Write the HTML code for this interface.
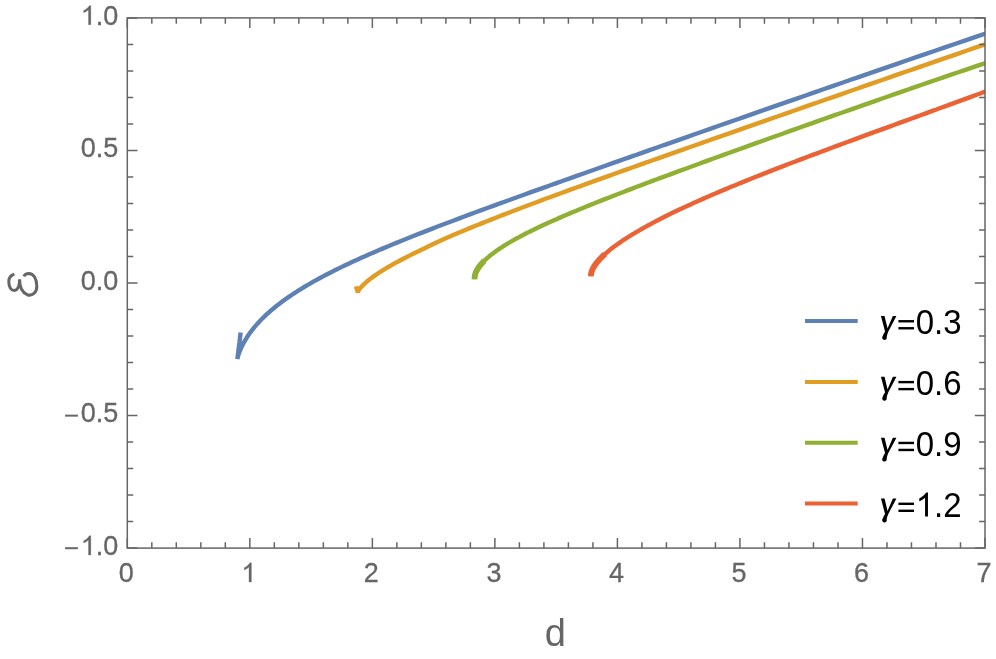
<!DOCTYPE html>
<html><head><meta charset="utf-8"><title>plot</title>
<style>html,body{margin:0;padding:0;background:#fff;}body{width:996px;height:659px;overflow:hidden;font-family:"Liberation Sans",sans-serif;}svg{display:block;}text{font-family:"Liberation Sans",sans-serif;}</style>
</head><body>
<svg style="will-change:transform" width="996" height="659" viewBox="0 0 996 659">
<rect x="0" y="0" width="996" height="659" fill="#ffffff"/>
<defs><clipPath id="clip"><rect x="127.3" y="17.9" width="857.7" height="530.2"/></clipPath></defs>
<g clip-path="url(#clip)" fill="none" stroke-width="4.4" stroke-linejoin="bevel" stroke-linecap="butt">
<path d="M240.6,332.4 L239.4,343 L237.35,359 L238.12,355.72 L238.81,353.69 L239.57,351.66 L240.4,349.63 L241.3,347.61 L242.27,345.58 L243.3,343.57 L244.41,341.55 L245.58,339.54 L246.82,337.54 L248.14,335.54 L249.52,333.54 L250.97,331.55 L252.49,329.57 L254.07,327.6 L255.73,325.62 L257.46,323.66 L259.25,321.7 L261.12,319.75 L263.05,317.81 L265.05,315.87 L267.12,313.94 L269.26,312.02 L271.47,310.1 L273.75,308.19 L276.1,306.28 L278.51,304.38 L281,302.49 L283.55,300.6 L286.18,298.72 L288.87,296.84 L291.63,294.97 L294.46,293.1 L297.36,291.23 L300.33,289.37 L303.36,287.51 L306.47,285.65 L309.64,283.8 L312.89,281.94 L316.2,280.09 L319.58,278.24 L323.04,276.39 L326.56,274.55 L330.15,272.7 L333.8,270.84 L337.53,268.99 L341.33,267.14 L345.19,265.28 L349.13,263.42 L353.13,261.56 L357.2,259.69 L361.34,257.82 L365.55,255.94 L369.83,254.06 L374.18,252.17 L378.6,250.28 L383.09,248.38 L387.64,246.47 L392.26,244.55 L396.96,242.62 L401.72,240.68 L406.55,238.74 L411.45,236.78 L416.42,234.81 L421.46,232.83 L426.57,230.84 L431.74,228.84 L436.99,226.82 L442.3,224.79 L447.69,222.75 L453.14,220.69 L458.66,218.62 L464.25,216.53 L469.91,214.43 L475.64,212.31 L481.44,210.17 L487.3,208.02 L493.24,205.85 L499.24,203.66 L505.32,201.45 L511.46,199.23 L517.67,196.99 L523.95,194.72 L530.3,192.44 L536.72,190.14 L543.21,187.82 L549.76,185.48 L556.39,183.11 L563.08,180.73 L569.85,178.33 L576.68,175.9 L583.58,173.45 L590.55,170.98 L597.59,168.49 L604.7,165.98 L611.88,163.44 L619.13,160.88 L626.44,158.3 L633.83,155.7 L641.28,153.07 L648.8,150.42 L656.39,147.75 L664.05,145.05 L671.78,142.34 L679.58,139.59 L687.45,136.83 L695.39,134.04 L703.39,131.23 L711.47,128.4 L719.61,125.54 L727.82,122.66 L736.11,119.76 L744.46,116.84 L752.88,113.89 L761.37,110.92 L769.92,107.93 L778.55,104.92 L787.25,101.88 L796.01,98.82 L804.85,95.74 L813.75,92.64 L822.72,89.52 L831.76,86.38 L840.87,83.21 L850.05,80.03 L859.3,76.82 L868.61,73.6 L878,70.35 L887.46,67.09 L896.98,63.81 L906.57,60.5 L916.23,57.18 L925.97,53.84 L935.77,50.49 L945.63,47.11 L955.57,43.72 L965.58,40.31 L975.65,36.89 L985.8,33.45" stroke="#5E81B5"/>
<path d="M355.9,286.3 L357.9,292.6 L358.19,291.41 L358.42,290.84 L358.71,290.25 L359.07,289.64 L359.49,289.02 L359.98,288.39 L360.53,287.74 L361.15,287.08 L361.83,286.41 L362.58,285.63 L363.39,284.8 L364.27,283.94 L365.21,283.06 L366.22,282.17 L367.29,281.25 L368.43,280.31 L369.63,279.36 L370.9,278.38 L372.23,277.39 L373.63,276.38 L375.09,275.35 L376.62,274.3 L378.21,273.24 L379.87,272.16 L381.59,271.06 L383.38,269.95 L385.23,268.82 L387.15,267.67 L389.13,266.51 L391.18,265.33 L393.29,264.14 L395.47,262.94 L397.71,261.71 L400.02,260.48 L402.39,259.23 L404.83,257.96 L407.33,256.68 L409.9,255.39 L412.53,254.08 L415.23,252.76 L417.99,251.42 L420.82,250.07 L423.71,248.71 L426.67,247.28 L429.69,245.8 L432.78,244.31 L435.93,242.8 L439.15,241.27 L442.43,239.78 L445.78,238.29 L449.19,236.79 L452.67,235.27 L456.21,233.74 L459.81,232.23 L463.49,230.7 L467.22,229.16 L471.03,227.6 L474.89,226.03 L478.83,224.45 L482.82,222.85 L486.89,221.23 L491.01,219.6 L495.21,217.96 L499.46,216.29 L503.78,214.62 L508.17,212.93 L512.62,211.22 L517.14,209.5 L521.72,207.76 L526.37,206 L531.08,204.23 L535.86,202.44 L540.7,200.63 L545.61,198.81 L550.58,196.97 L555.62,195.12 L560.72,193.24 L565.89,191.35 L571.12,189.44 L576.42,187.52 L581.78,185.57 L587.21,183.61 L592.7,181.63 L598.26,179.63 L603.88,177.61 L609.57,175.57 L615.32,173.51 L621.14,171.44 L627.02,169.34 L632.97,167.23 L638.98,165.09 L645.06,162.94 L651.2,160.76 L657.4,158.57 L663.68,156.35 L670.01,154.12 L676.42,151.86 L682.88,149.58 L689.42,147.28 L696.01,144.96 L702.67,142.62 L709.4,140.26 L716.19,137.88 L723.05,135.48 L729.97,133.05 L736.96,130.6 L744.01,128.13 L751.13,125.64 L758.31,123.13 L765.56,120.6 L772.87,118.04 L780.25,115.46 L787.69,112.87 L795.2,110.24 L802.77,107.6 L810.41,104.94 L818.11,102.25 L825.88,99.54 L833.71,96.81 L841.6,94.06 L849.57,91.28 L857.59,88.49 L865.69,85.67 L873.84,82.83 L882.07,79.98 L890.35,77.1 L898.7,74.19 L907.12,71.27 L915.6,68.33 L924.15,65.37 L932.76,62.38 L941.44,59.38 L950.18,56.36 L958.99,53.32 L967.86,50.26 L976.8,47.18 L985.8,44.08" stroke="#E19C24"/>
<path d="M474.6,279.26 L474.6,278.36 L474.63,277.53 L474.71,276.68 L474.84,275.83 L475.02,274.97 L475.26,274.09 L475.55,273.21 L475.9,272.32 L476.29,271.41 L476.74,270.5 L477.25,269.58 L477.8,268.65 L478.41,267.71 L479.07,266.76 L479.79,265.81 L480.55,264.84 L481.37,263.87 L482.25,262.89 L483.17,261.9 L484.15,260.9 L485.18,259.9 L486.27,258.89 L487.41,257.87 L488.6,256.84 L489.84,255.81 L491.14,254.77 L492.49,253.72 L493.89,252.66 L495.34,251.6 L496.85,250.53 L498.41,249.45 L500.03,248.37 L501.69,247.28 L503.41,246.18 L505.19,245.07 L507.01,243.96 L508.89,242.83 L510.82,241.71 L512.81,240.57 L514.84,239.42 L516.93,238.27 L519.08,237.11 L521.27,235.94 L523.52,234.76 L525.82,233.58 L528.18,232.39 L530.59,231.18 L533.05,229.97 L535.56,228.75 L538.13,227.53 L540.75,226.29 L543.42,225.04 L546.14,223.79 L548.92,222.52 L551.75,221.25 L554.64,219.96 L557.57,218.67 L560.56,217.36 L563.61,216.05 L566.7,214.72 L569.85,213.39 L573.05,212.04 L576.31,210.68 L579.61,209.31 L582.97,207.93 L586.39,206.54 L589.85,205.13 L593.37,203.72 L596.94,202.29 L600.57,200.85 L604.25,199.4 L607.98,197.93 L611.76,196.45 L615.6,194.96 L619.49,193.46 L623.43,191.94 L627.42,190.41 L631.47,188.87 L635.57,187.31 L639.73,185.73 L643.93,184.15 L648.19,182.55 L652.51,180.93 L656.87,179.3 L661.29,177.66 L665.76,176 L670.29,174.32 L674.86,172.63 L679.49,170.92 L684.18,169.2 L688.91,167.47 L693.7,165.72 L698.54,163.95 L703.44,162.16 L708.39,160.36 L713.39,158.55 L718.44,156.72 L723.55,154.87 L728.71,153 L733.92,151.12 L739.18,149.22 L744.5,147.31 L749.87,145.38 L755.3,143.43 L760.77,141.47 L766.3,139.49 L771.88,137.49 L777.52,135.48 L783.21,133.45 L788.95,131.4 L794.74,129.34 L800.59,127.26 L806.49,125.17 L812.45,123.06 L818.45,120.93 L824.51,118.78 L830.62,116.62 L836.79,114.45 L843,112.26 L849.28,110.05 L855.6,107.83 L861.98,105.59 L868.4,103.34 L874.89,101.07 L881.42,98.78 L888.01,96.49 L894.65,94.18 L901.35,91.85 L908.09,89.51 L914.89,87.16 L921.74,84.79 L928.65,82.41 L935.61,80.02 L942.62,77.62 L949.68,75.2 L956.8,72.78 L963.97,70.34 L971.2,67.89 L978.47,65.43 L985.8,62.96" stroke="#8FB032"/>
<path d="M591,276.24 L591,275.44 L591.02,274.79 L591.08,274.12 L591.18,273.43 L591.33,272.74 L591.51,272.02 L591.74,271.3 L592,270.56 L592.31,269.81 L592.66,269.04 L593.04,268.27 L593.47,267.47 L593.94,266.67 L594.45,265.86 L595.01,265.03 L595.6,264.19 L596.23,263.34 L596.91,262.48 L597.62,261.61 L598.38,260.73 L599.17,259.83 L600.01,258.93 L600.89,258.01 L601.81,257.09 L602.77,256.15 L603.77,255.21 L604.81,254.25 L605.9,253.29 L607.02,252.32 L608.18,251.33 L609.39,250.34 L610.64,249.34 L611.92,248.33 L613.25,247.31 L614.62,246.28 L616.03,245.25 L617.48,244.2 L618.97,243.15 L620.51,242.09 L622.08,241.02 L623.69,239.94 L625.35,238.86 L627.05,237.77 L628.78,236.66 L630.56,235.56 L632.38,234.44 L634.24,233.32 L636.14,232.18 L638.08,231.05 L640.06,229.9 L642.08,228.75 L644.15,227.58 L646.25,226.42 L648.4,225.24 L650.58,224.06 L652.81,222.87 L655.08,221.67 L657.39,220.46 L659.74,219.25 L662.13,218.03 L664.56,216.81 L667.03,215.57 L669.55,214.33 L672.1,213.09 L674.7,211.83 L677.33,210.57 L680.01,209.3 L682.73,208.02 L685.49,206.74 L688.28,205.45 L691.13,204.15 L694.01,202.85 L696.93,201.53 L699.89,200.21 L702.9,198.88 L705.94,197.55 L709.03,196.2 L712.15,194.85 L715.32,193.5 L718.53,192.13 L721.78,190.75 L725.07,189.37 L728.4,187.98 L731.77,186.58 L735.18,185.18 L738.63,183.76 L742.13,182.34 L745.66,180.91 L749.24,179.47 L752.86,178.02 L756.51,176.56 L760.21,175.1 L763.95,173.62 L767.73,172.14 L771.55,170.64 L775.41,169.14 L779.32,167.63 L783.26,166.1 L787.25,164.57 L791.27,163.03 L795.34,161.48 L799.44,159.92 L803.59,158.35 L807.78,156.76 L812.01,155.17 L816.28,153.57 L820.59,151.95 L824.95,150.33 L829.34,148.69 L833.77,147.04 L838.25,145.38 L842.76,143.71 L847.32,142.03 L851.92,140.33 L856.56,138.62 L861.24,136.9 L865.96,135.17 L870.72,133.43 L875.52,131.67 L880.36,129.9 L885.25,128.11 L890.17,126.31 L895.14,124.5 L900.14,122.68 L905.19,120.84 L910.28,118.98 L915.41,117.11 L920.58,115.23 L925.79,113.33 L931.04,111.42 L936.33,109.49 L941.66,107.54 L947.04,105.58 L952.45,103.6 L957.91,101.61 L963.4,99.6 L968.94,97.57 L974.52,95.53 L980.14,93.47 L985.8,91.39" stroke="#EB6235"/>
<path d="M474.6,279.26 L474.6,278.36 L474.63,277.53 L474.71,276.68 L474.84,275.83 L475.02,274.97 L475.26,274.09 L475.55,273.21 L475.9,272.32 L476.29,271.41 L476.74,270.5 L477.25,269.58 L477.8,268.65 L478.41,267.71 L479.07,266.76 L479.79,265.81 L480.55,264.84 L481.37,263.87 L482.25,262.89 L483.17,261.9 L484.15,260.9" stroke="#8FB032" stroke-width="5.9"/>
<path d="M591,276.24 L591,275.44 L591.02,274.79 L591.08,274.12 L591.18,273.43 L591.33,272.74 L591.51,272.02 L591.74,271.3 L592,270.56 L592.31,269.81 L592.66,269.04 L593.04,268.27 L593.47,267.47 L593.94,266.67 L594.45,265.86 L595.01,265.03 L595.6,264.19 L596.23,263.34 L596.91,262.48 L597.62,261.61 L598.38,260.73 L599.17,259.83 L600.01,258.93 L600.89,258.01 L601.81,257.09 L602.77,256.15 L603.77,255.21 L604.81,254.25" stroke="#EB6235" stroke-width="5.9"/>
</g>
<path d="M127.3,548.1 v-10.2 M127.3,17.9 v10.2 M151.81,548.1 v-5.9 M151.81,17.9 v5.9 M176.31,548.1 v-5.9 M176.31,17.9 v5.9 M200.82,548.1 v-5.9 M200.82,17.9 v5.9 M225.32,548.1 v-5.9 M225.32,17.9 v5.9 M249.83,548.1 v-10.2 M249.83,17.9 v10.2 M274.33,548.1 v-5.9 M274.33,17.9 v5.9 M298.84,548.1 v-5.9 M298.84,17.9 v5.9 M323.35,548.1 v-5.9 M323.35,17.9 v5.9 M347.85,548.1 v-5.9 M347.85,17.9 v5.9 M372.36,548.1 v-10.2 M372.36,17.9 v10.2 M396.86,548.1 v-5.9 M396.86,17.9 v5.9 M421.37,548.1 v-5.9 M421.37,17.9 v5.9 M445.87,548.1 v-5.9 M445.87,17.9 v5.9 M470.38,548.1 v-5.9 M470.38,17.9 v5.9 M494.89,548.1 v-10.2 M494.89,17.9 v10.2 M519.39,548.1 v-5.9 M519.39,17.9 v5.9 M543.9,548.1 v-5.9 M543.9,17.9 v5.9 M568.4,548.1 v-5.9 M568.4,17.9 v5.9 M592.91,548.1 v-5.9 M592.91,17.9 v5.9 M617.41,548.1 v-10.2 M617.41,17.9 v10.2 M641.92,548.1 v-5.9 M641.92,17.9 v5.9 M666.43,548.1 v-5.9 M666.43,17.9 v5.9 M690.93,548.1 v-5.9 M690.93,17.9 v5.9 M715.44,548.1 v-5.9 M715.44,17.9 v5.9 M739.94,548.1 v-10.2 M739.94,17.9 v10.2 M764.45,548.1 v-5.9 M764.45,17.9 v5.9 M788.95,548.1 v-5.9 M788.95,17.9 v5.9 M813.46,548.1 v-5.9 M813.46,17.9 v5.9 M837.97,548.1 v-5.9 M837.97,17.9 v5.9 M862.47,548.1 v-10.2 M862.47,17.9 v10.2 M886.98,548.1 v-5.9 M886.98,17.9 v5.9 M911.48,548.1 v-5.9 M911.48,17.9 v5.9 M935.99,548.1 v-5.9 M935.99,17.9 v5.9 M960.49,548.1 v-5.9 M960.49,17.9 v5.9 M985,548.1 v-10.2 M985,17.9 v10.2 M127.3,548.1 h10.2 M985,548.1 h-10.2 M127.3,521.59 h5.9 M985,521.59 h-5.9 M127.3,495.08 h5.9 M985,495.08 h-5.9 M127.3,468.57 h5.9 M985,468.57 h-5.9 M127.3,442.06 h5.9 M985,442.06 h-5.9 M127.3,415.55 h10.2 M985,415.55 h-10.2 M127.3,389.04 h5.9 M985,389.04 h-5.9 M127.3,362.53 h5.9 M985,362.53 h-5.9 M127.3,336.02 h5.9 M985,336.02 h-5.9 M127.3,309.51 h5.9 M985,309.51 h-5.9 M127.3,283 h10.2 M985,283 h-10.2 M127.3,256.49 h5.9 M985,256.49 h-5.9 M127.3,229.98 h5.9 M985,229.98 h-5.9 M127.3,203.47 h5.9 M985,203.47 h-5.9 M127.3,176.96 h5.9 M985,176.96 h-5.9 M127.3,150.45 h10.2 M985,150.45 h-10.2 M127.3,123.94 h5.9 M985,123.94 h-5.9 M127.3,97.43 h5.9 M985,97.43 h-5.9 M127.3,70.92 h5.9 M985,70.92 h-5.9 M127.3,44.41 h5.9 M985,44.41 h-5.9 M127.3,17.9 h10.2 M985,17.9 h-10.2" stroke="#666666" stroke-width="1.5" fill="none"/>
<rect x="127.3" y="17.9" width="857.7" height="530.2" fill="none" stroke="#666666" stroke-width="1.5"/>
<g fill="#666666" stroke="#666666" stroke-width="0.3" font-size="27" >
<g transform="translate(80.77,24.8) scale(1,1.04)"><path transform="translate(0,0) scale(0.01318,-0.01252)" d="M763 0H583V1147Q518 1085 412.5 1023T223 930V1104Q374 1175 487 1276T647 1472H763Z" stroke-width="22.76"/><text x="15.02" y="0">.0</text></g>
<g transform="translate(80.77,157.35) scale(1,1.04)"><text x="0" y="0">0.5</text></g>
<g transform="translate(80.77,289.9) scale(1,1.04)"><text x="0" y="0">0.0</text></g>
<line x1="65.1" y1="415.65" x2="77.9" y2="415.65" stroke-width="2"/>
<g transform="translate(80.77,422.45) scale(1,1.04)"><text x="0" y="0">0.5</text></g>
<line x1="65.1" y1="548.2" x2="77.9" y2="548.2" stroke-width="2"/>
<g transform="translate(80.77,555) scale(1,1.04)"><path transform="translate(0,0) scale(0.01318,-0.01252)" d="M763 0H583V1147Q518 1085 412.5 1023T223 930V1104Q374 1175 487 1276T647 1472H763Z" stroke-width="22.76"/><text x="15.02" y="0">.0</text></g>
</g>
<g fill="#666666" stroke="#666666" stroke-width="0.3" font-size="27" >
<g transform="translate(118.79,582) scale(1,1.04)"><text x="0" y="0">0</text></g>
<g transform="translate(241.32,582) scale(1,1.04)"><path transform="translate(0,0) scale(0.01318,-0.01252)" d="M763 0H583V1147Q518 1085 412.5 1023T223 930V1104Q374 1175 487 1276T647 1472H763Z" stroke-width="22.76"/></g>
<g transform="translate(363.85,582) scale(1,1.04)"><text x="0" y="0">2</text></g>
<g transform="translate(486.38,582) scale(1,1.04)"><text x="0" y="0">3</text></g>
<g transform="translate(608.91,582) scale(1,1.04)"><text x="0" y="0">4</text></g>
<g transform="translate(731.43,582) scale(1,1.04)"><text x="0" y="0">5</text></g>
<g transform="translate(853.96,582) scale(1,1.04)"><text x="0" y="0">6</text></g>
<g transform="translate(976.49,582) scale(1,1.04)"><text x="0" y="0">7</text></g>
</g>
<text x="555.3" y="645.7" fill="#666666" font-size="38" text-anchor="middle">d</text>
<path d="M14.4,274.2 C10.6,275.2 8.7,278.6 8.8,282.1 C9,287.2 11,290.7 14.4,290.5 C18,290.2 19.6,286.2 19.6,279.3 C19.6,286.5 21.8,292.5 27.2,294.7 C32.5,296.4 36.8,292.5 36.8,286.2 C36.8,278.5 33.5,273.5 28.8,273.4 C26.3,273.4 24.6,274.5 23.8,276.3" fill="none" stroke="#666666" stroke-width="3" stroke-linecap="butt" stroke-linejoin="bevel"/>
<line x1="805" y1="321.06" x2="857.7" y2="321.06" stroke="#5E81B5" stroke-width="4"/>
<g fill="#000" font-size="33"><g transform="translate(879.9,333.96) scale(1,1.07)"><path d="M1.05,-16.79 L4.62,-16.79 L7.65,-5.23 L12.97,-16.79 L16.53,-16.79 L8.41,-2.39 Q7.27,0 6.78,2.8 A2.3,2.15 0 1 1 2.7,2.15 Q3.4,0 5.15,-2.39 Z"/><rect x="18.5" y="-12.99" width="15.6" height="2.24"/><rect x="18.5" y="-6.45" width="15.6" height="2.24"/><text x="35.77" y="0">0.3</text></g></g>
<line x1="805" y1="381.91" x2="857.7" y2="381.91" stroke="#E19C24" stroke-width="4"/>
<g fill="#000" font-size="33"><g transform="translate(879.9,394.81) scale(1,1.07)"><path d="M1.05,-16.79 L4.62,-16.79 L7.65,-5.23 L12.97,-16.79 L16.53,-16.79 L8.41,-2.39 Q7.27,0 6.78,2.8 A2.3,2.15 0 1 1 2.7,2.15 Q3.4,0 5.15,-2.39 Z"/><rect x="18.5" y="-12.99" width="15.6" height="2.24"/><rect x="18.5" y="-6.45" width="15.6" height="2.24"/><text x="35.77" y="0">0.6</text></g></g>
<line x1="805" y1="442.76" x2="857.7" y2="442.76" stroke="#8FB032" stroke-width="4"/>
<g fill="#000" font-size="33"><g transform="translate(879.9,455.66) scale(1,1.07)"><path d="M1.05,-16.79 L4.62,-16.79 L7.65,-5.23 L12.97,-16.79 L16.53,-16.79 L8.41,-2.39 Q7.27,0 6.78,2.8 A2.3,2.15 0 1 1 2.7,2.15 Q3.4,0 5.15,-2.39 Z"/><rect x="18.5" y="-12.99" width="15.6" height="2.24"/><rect x="18.5" y="-6.45" width="15.6" height="2.24"/><text x="35.77" y="0">0.9</text></g></g>
<line x1="805" y1="503.61" x2="857.7" y2="503.61" stroke="#EB6235" stroke-width="4"/>
<g fill="#000" font-size="33"><g transform="translate(879.9,516.51) scale(1,1.07)"><path d="M1.05,-16.79 L4.62,-16.79 L7.65,-5.23 L12.97,-16.79 L16.53,-16.79 L8.41,-2.39 Q7.27,0 6.78,2.8 A2.3,2.15 0 1 1 2.7,2.15 Q3.4,0 5.15,-2.39 Z"/><rect x="18.5" y="-12.99" width="15.6" height="2.24"/><rect x="18.5" y="-6.45" width="15.6" height="2.24"/><path transform="translate(35.77,0) scale(0.01611,-0.01531)" d="M763 0H583V1147Q518 1085 412.5 1023T223 930V1104Q374 1175 487 1276T647 1472H763Z" stroke-width="18.62"/><text x="54.12" y="0">.2</text></g></g>
</svg>
</body></html>
